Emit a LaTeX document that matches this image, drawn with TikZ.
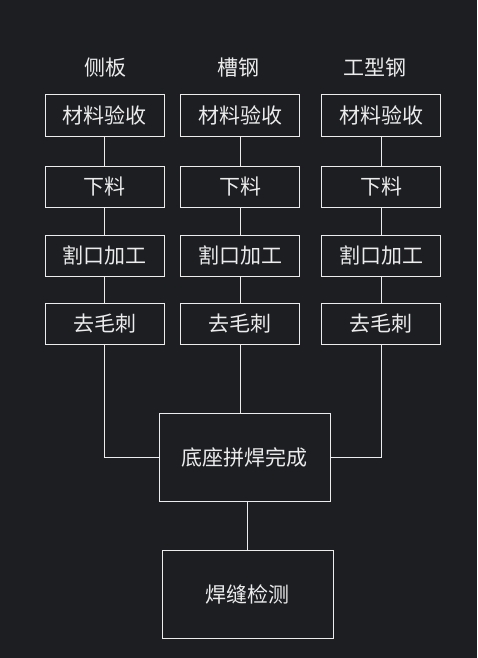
\documentclass[tikz,border=0pt]{standalone}
\usepackage{fontspec}
\newfontfamily\cjk{Noto Sans CJK SC}
\definecolor{bg}{RGB}{28,30,34}
\definecolor{ink}{RGB}{236,236,236}

\begin{document}
\begin{tikzpicture}[x=1pt,y=-1pt,
        stepbox/.style={draw=ink,line width=1, minimum width=119, minimum height=41, inner sep=0, text=ink, font=\cjk\fontsize{21}{24}\selectfont},
        bigbox/.style={stepbox, minimum width=171, minimum height=88},
        head/.style={text=ink, font=\cjk\fontsize{21}{24}\selectfont},
        link/.style={draw=ink,line width=1}]
        \fill[bg] (0,0) rectangle (477,658);
        \node[head] (h1) at (105,68) {侧板};
        \node[head] (h2) at (238,68) {槽钢};
        \node[head] (h3) at (375,68) {工型钢};
        % columns of steps
        \foreach \c/\x in {1/104.5, 2/240, 3/381} {
            \node[stepbox] (c\c r1) at (\x,115.5) {材料验收};
            \node[stepbox] (c\c r2) at (\x,187) {下料};
            \node[stepbox] (c\c r3) at (\x,255.5) {割口加工};
            \node[stepbox] (c\c r4) at (\x,324) {去毛刺};
            \draw[link] (c\c r1) -- (c\c r2) (c\c r2) -- (c\c r3) (c\c r3) -- (c\c r4);
        }
        \node[bigbox] (base) at (244.5,457) {底座拼焊完成};
        \node[bigbox] (check) at (247.5,594) {焊缝检测};
        \draw[link] (c1r4.south) |- (base.west);
        \draw[link] (c3r4.south) |- (base.east);
        \draw[link] (c2r4.south) -- (c2r4.south |- base.north);
        \draw[link] (base.south -| check.north) -- (check.north);
    \end{tikzpicture}
\end{document}
